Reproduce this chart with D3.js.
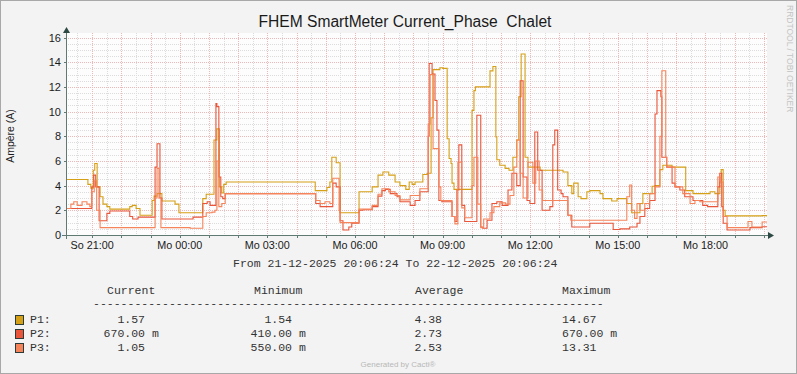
<!DOCTYPE html>
<html>
<head>
<meta charset="utf-8">
<script src="https://cdn.jsdelivr.net/npm/d3@7"></script>
<style>
  html, body { margin: 0; padding: 0; background: #f3f3f3; }
  svg { display: block; }
  text { font-family: "Liberation Sans", Arial, sans-serif; fill: #1a1a1a; }
  .mono { font-family: "Liberation Mono", "Courier New", monospace; font-size: 11.5px; fill: #333; white-space: pre; }
</style>
</head>
<body>
<script>
// step data: [minutes after 21-12-2025 20:06:24, ampere]
const p1Steps = [[0,4.5],[45,4.1],[51,3.8],[56,5.25],[59,5.8],[64,3.9],[70,3.1],[76,2.5],[84,2.3],[90,2.1],[131,2.3],[136,2.4],[144,2.15],[152,1.6],
  [177,2.8],[181,3.15],[187,3.35],[197,2.75],[224,2.5],[232,1.8],[281,2.95],[288,3.3],[304,7.7],[310,8.6],[315,3.9],[320,3.4],[324,4.1],[329,4.3],
  [512,3.6],[536,3.85],[542,4.3],[546,6.3],[555,5.85],[563,1.8],[602,3.5],[629,3.9],[641,4.85],[651,5.1],[663,4.85],[676,4.3],[686,4.0],[698,3.7],
  [705,4.3],[711,4.1],[717,4.3],[733,4.9],[742,5.0],[750,9.5],[754,13.4],[768,13.55],[774,13.5],[783,7.8],[787,6.2],[791,5.8],[793,4.2],[797,3.7],
  [834,10.1],[838,11.7],[841,12.0],[871,13.3],[877,13.65],[883,7.95],[885,6.1],[891,5.65],[902,5.4],[910,5.25],[918,6.3],[926,7.7],[930,11.2],
  [935,14.67],[943,6.3],[949,5.5],[974,5.25],[1021,5.1],[1031,4.0],[1039,3.35],[1043,4.2],[1052,3.1],[1058,2.95],[1070,3.5],[1076,3.6],[1097,3.35],
  [1103,2.95],[1121,2.75],[1132,2.95],[1152,2.55],[1162,1.8],[1179,2.55],[1185,3.35],[1204,3.95],[1210,4.0],[1220,5.3],[1226,5.65],[1245,5.5],
  [1273,3.6],[1288,3.35],[1323,3.5],[1333,3.35],[1343,4.3],[1346,5.3],[1350,2.0],[1354,1.55],[1430,1.57]];

const p2Steps = [[0,2.15],[53,3.9],[57,4.85],[61,3.9],[68,1.15],[84,1.75],[90,1.95],[131,1.5],[137,1.3],[148,1.45],[183,5.5],[187,7.4],[193,3.0],
  [197,1.3],[261,1.45],[281,2.55],[290,2.7],[296,2.4],[308,10.65],[310,10.4],[314,4.7],[318,3.1],[322,2.95],[327,3.35],[513,2.55],[522,2.3],
  [548,4.2],[555,3.9],[563,1.15],[569,0.41],[581,0.65],[587,0.95],[602,2.0],[610,2.05],[629,2.3],[641,3.15],[649,3.6],[656,3.7],[666,3.35],
  [680,3.1],[686,2.7],[707,2.4],[717,2.8],[727,3.5],[744,8.0],[746,13.9],[752,13.05],[758,10.9],[762,8.5],[766,2.8],[772,2.7],[793,1.5],[799,1.1],
  [803,3.65],[807,7.3],[813,2.4],[819,1.1],[844,9.7],[852,0.65],[856,0.55],[865,1.2],[875,2.55],[885,2.7],[896,2.4],[908,3.65],[916,5.0],[926,4.0],
  [933,12.5],[939,4.7],[947,2.8],[953,2.55],[963,8.35],[969,5.25],[978,2.0],[994,2.3],[1000,7.3],[1004,8.5],[1010,3.65],[1017,3.35],[1021,3.1],
  [1031,1.6],[1039,0.65],[1076,0.95],[1124,0.45],[1138,0.5],[1158,0.65],[1173,0.95],[1179,1.5],[1189,2.15],[1199,2.8],[1210,9.8],[1214,11.7],
  [1222,11.2],[1224,6.3],[1234,5.5],[1245,4.2],[1251,3.9],[1261,3.65],[1271,3.1],[1288,2.8],[1308,2.4],[1318,2.3],[1339,3.9],[1343,5.0],[1347,2.3],
  [1350,0.95],[1358,0.41],[1405,0.6],[1430,0.67]];

const p3Steps = [[0,2.15],[10,2.5],[16,2.7],[23,2.4],[33,2.7],[43,2.5],[49,2.3],[53,3.5],[58,4.4],[63,2.0],[70,0.6],[183,3.0],[187,5.4],[191,3.0],
  [195,0.6],[255,0.55],[281,1.5],[288,1.8],[300,1.85],[306,2.0],[310,6.0],[314,2.3],[320,2.55],[327,3.35],[513,2.8],[522,2.55],[532,2.7],[542,2.55],
  [548,4.6],[561,2.0],[563,1.0],[602,2.1],[629,2.4],[641,3.3],[649,3.75],[663,3.5],[676,3.2],[686,2.85],[707,3.2],[727,3.75],[744,9.0],[748,13.0],
  [754,7.0],[766,3.9],[770,2.8],[793,1.5],[799,0.9],[805,5.9],[813,2.2],[819,1.4],[834,4.0],[838,6.3],[846,2.5],[852,0.6],[858,1.3],[871,1.8],
  [879,2.3],[891,2.6],[903,2.5],[912,3.2],[920,5.5],[926,7.7],[933,5.0],[939,3.0],[949,5.9],[959,4.2],[965,6.0],[972,3.65],[979,2.8],[1031,1.6],
  [1037,1.2],[1152,3.1],[1158,4.05],[1162,2.0],[1168,1.35],[1173,2.55],[1179,2.0],[1189,2.55],[1199,3.35],[1210,3.9],[1220,8.0],[1224,13.31],
  [1232,6.3],[1234,5.5],[1251,3.9],[1267,3.35],[1282,2.55],[1292,2.8],[1302,2.7],[1339,4.7],[1345,4.3],[1350,1.5],[1358,0.6],[1401,1.1],[1409,0.65],
  [1430,1.05]];

const seriesNames = ["P1", "P2", "P3"];
const seriesColors = ["#d6a016", "#e8553a", "#f5845a"];
const yTicks = [0, 2, 4, 6, 8, 10, 12, 14, 16];
const xTickHours = ["2025-12-21 21:00", "2025-12-22 00:00", "2025-12-22 03:00", "2025-12-22 06:00", "2025-12-22 09:00", "2025-12-22 12:00", "2025-12-22 15:00", "2025-12-22 18:00"];
const legendHead = ["Current", "Minimum", "Average", "Maximum"];
const legendCurrent = ["1.57", "670.00 m", "1.05"];
const legendMinimum = ["1.54", "410.00 m", "550.00 m"];
const legendAverage = ["4.38", "2.73", "2.53"];
const legendMaximum = ["14.67", "670.00 m", "13.31"];

const W = 797, H = 374;
const plotL = 66, plotR = 767, plotT = 33, plotB = 235;
const start = new Date(2025, 11, 21, 20, 6, 24);
const end = new Date(2025, 11, 22, 20, 6, 24);
const parse = d3.timeParse("%Y-%m-%d %H:%M");

const x = d3.scaleTime().domain([start, end]).range([plotL, plotR]);
const y = d3.scaleLinear().domain([0, 16]).range([plotB, plotB - 16 * 12.34]);

const svg = d3.select("body").append("svg").attr("width", W).attr("height", H);
svg.append("rect").attr("x", 0.5).attr("y", 0.5).attr("width", W - 1).attr("height", H - 1)
  .attr("fill", "#f3f3f3").attr("stroke", "#a8a8a8");
svg.append("rect").attr("x", plotL).attr("y", plotT).attr("width", plotR - plotL).attr("height", plotB - plotT).attr("fill", "#fdfdfd");

// grid
const grid = svg.append("g");
const minorY = d3.range(0, 16.01, 0.5).filter(v => v % 2 !== 0);
grid.selectAll(".hy").data(minorY).enter().append("line")
  .attr("x1", plotL).attr("x2", plotR).attr("y1", d => Math.round(y(d)) + 0.5).attr("y2", d => Math.round(y(d)) + 0.5)
  .attr("stroke", "#dcdcdc").attr("stroke-dasharray", "1,1");
const halfHours = d3.timeMinute.every(30).range(start, end).filter(d => d.getMinutes() === 30);
grid.selectAll(".vx").data(halfHours).enter().append("line")
  .attr("x1", d => Math.round(x(d)) + 0.5).attr("x2", d => Math.round(x(d)) + 0.5).attr("y1", plotT).attr("y2", plotB)
  .attr("stroke", "#dcdcdc").attr("stroke-dasharray", "1,1");
grid.selectAll(".my").data(yTicks.slice(1)).enter().append("line")
  .attr("x1", plotL).attr("x2", plotR).attr("y1", d => Math.round(y(d)) + 0.5).attr("y2", d => Math.round(y(d)) + 0.5)
  .attr("stroke", "#ecb8b8").attr("stroke-dasharray", "1,1");
const hours = d3.timeHour.every(1).range(start, end);
grid.selectAll(".mx").data(hours).enter().append("line")
  .attr("x1", d => Math.round(x(d)) + 0.5).attr("x2", d => Math.round(x(d)) + 0.5).attr("y1", plotT).attr("y2", plotB)
  .attr("stroke", "#ecb8b8").attr("stroke-dasharray", "1,1");

// lines
const line = d3.line().curve(d3.curveStepAfter)
  .x(d => x(new Date(start.getTime() + d[0] * 60000)))
  .y(d => y(d[1]));
[p1Steps, p2Steps, p3Steps].forEach((s, i) => {
  const pts = s.concat([[1440, s[s.length - 1][1]]]);
  svg.append("path").datum(pts).attr("d", line).attr("fill", "none")
    .attr("stroke", seriesColors[i]).attr("stroke-width", 1.1);
});

// axes
const axisCol = "#5f7a72";
svg.append("line").attr("x1", plotL + 0.5).attr("x2", plotL + 0.5).attr("y1", plotT - 3).attr("y2", plotB + 4).attr("stroke", axisCol);
svg.append("line").attr("x1", plotL - 4).attr("x2", plotR + 4).attr("y1", plotB + 0.5).attr("y2", plotB + 0.5).attr("stroke", axisCol);
svg.append("path").attr("d", `M${plotL + 0.5},${plotT - 6} L${plotL - 3},${plotT} L${plotL + 4},${plotT} Z`).attr("fill", "#2d4a44");
svg.append("path").attr("d", `M${plotR + 7},${plotB + 0.5} L${plotR + 1},${plotB - 3} L${plotR + 1},${plotB + 4} Z`).attr("fill", "#2d4a44");

svg.selectAll(".yt").data(yTicks).enter().append("line")
  .attr("x1", plotL - 2).attr("x2", plotL).attr("y1", d => Math.round(y(d)) + 0.5).attr("y2", d => Math.round(y(d)) + 0.5).attr("stroke", axisCol);
svg.selectAll(".ylab").data(yTicks).enter().append("text")
  .attr("x", plotL - 5).attr("y", d => y(d) + 4).attr("text-anchor", "end").attr("font-size", 11).text(d => d);

svg.selectAll(".xt").data(hours).enter().append("line")
  .attr("x1", d => Math.round(x(d)) + 0.5).attr("x2", d => Math.round(x(d)) + 0.5).attr("y1", plotB).attr("y2", plotB + 3).attr("stroke", axisCol);
const fmt = d3.timeFormat("%H:%M");
const dayName = d => (d.getDay() === 0 ? "So " : "Mo ") + fmt(d);
svg.selectAll(".xlab").data(xTickHours.map(parse)).enter().append("text")
  .attr("x", d => x(d)).attr("y", plotB + 14).attr("text-anchor", "middle").attr("font-size", 10.8).text(dayName);

svg.append("text").attr("transform", `translate(14,${(plotT + plotB) / 2 + 2}) rotate(-90)`)
  .attr("text-anchor", "middle").attr("font-size", 10.5).text("Ampère (A)");

svg.append("text").attr("x", 405).attr("y", 27).attr("text-anchor", "middle").attr("font-size", 15.6)
  .style("white-space", "pre").text("FHEM SmartMeter Current_Phase  Chalet");

svg.append("text").attr("transform", "translate(787,5) rotate(90)").attr("font-size", 8.5)
  .style("fill", "#c4c4c4").text("RRDTOOL / TOBI OETIKER");

// legend
svg.append("text").attr("class", "mono").attr("x", 233).attr("y", 267)
  .text("From 21-12-2025 20:06:24 To 22-12-2025 20:06:24");
const colX = [107, 254, 415, 562];
svg.selectAll(".lh").data(legendHead).enter().append("text").attr("class", "mono")
  .attr("x", (d, i) => colX[i]).attr("y", 294).text(d => d);
svg.append("text").attr("class", "mono").attr("x", 93).attr("y", 307).text("-".repeat(74));

const rowY = [323, 337, 351];
seriesNames.forEach((n, i) => {
  svg.append("rect").attr("x", 15.5).attr("y", rowY[i] - 7.5).attr("width", 8).attr("height", 9)
    .attr("fill", seriesColors[i]).attr("stroke", "#2b3b38");
  svg.append("text").attr("class", "mono").attr("x", 30).attr("y", rowY[i]).text(n + ":");
});
function numCol(vals, xEnd, anchorStart) {
  vals.forEach((v, i) => {
    const isM = v.endsWith(" m");
    const num = isM ? v.slice(0, -2) : v;
    const t = svg.append("text").attr("class", "mono").attr("y", rowY[i]);
    if (anchorStart) t.attr("x", xEnd).text(v);
    else {
      t.attr("x", xEnd).attr("text-anchor", "end").text(num);
      if (isM) svg.append("text").attr("class", "mono").attr("x", xEnd + 7).attr("y", rowY[i]).text("m");
    }
  });
}
numCol(legendCurrent, 145, false);
numCol(legendMinimum, 292, false);
numCol(legendAverage, 442, false);
numCol(legendMaximum, 562, true);

svg.append("text").attr("x", 398).attr("y", 367).attr("text-anchor", "middle").attr("font-size", 8)
  .style("fill", "#b8b8b8").text("Generated by Cacti®");
</script>
</body>
</html>
